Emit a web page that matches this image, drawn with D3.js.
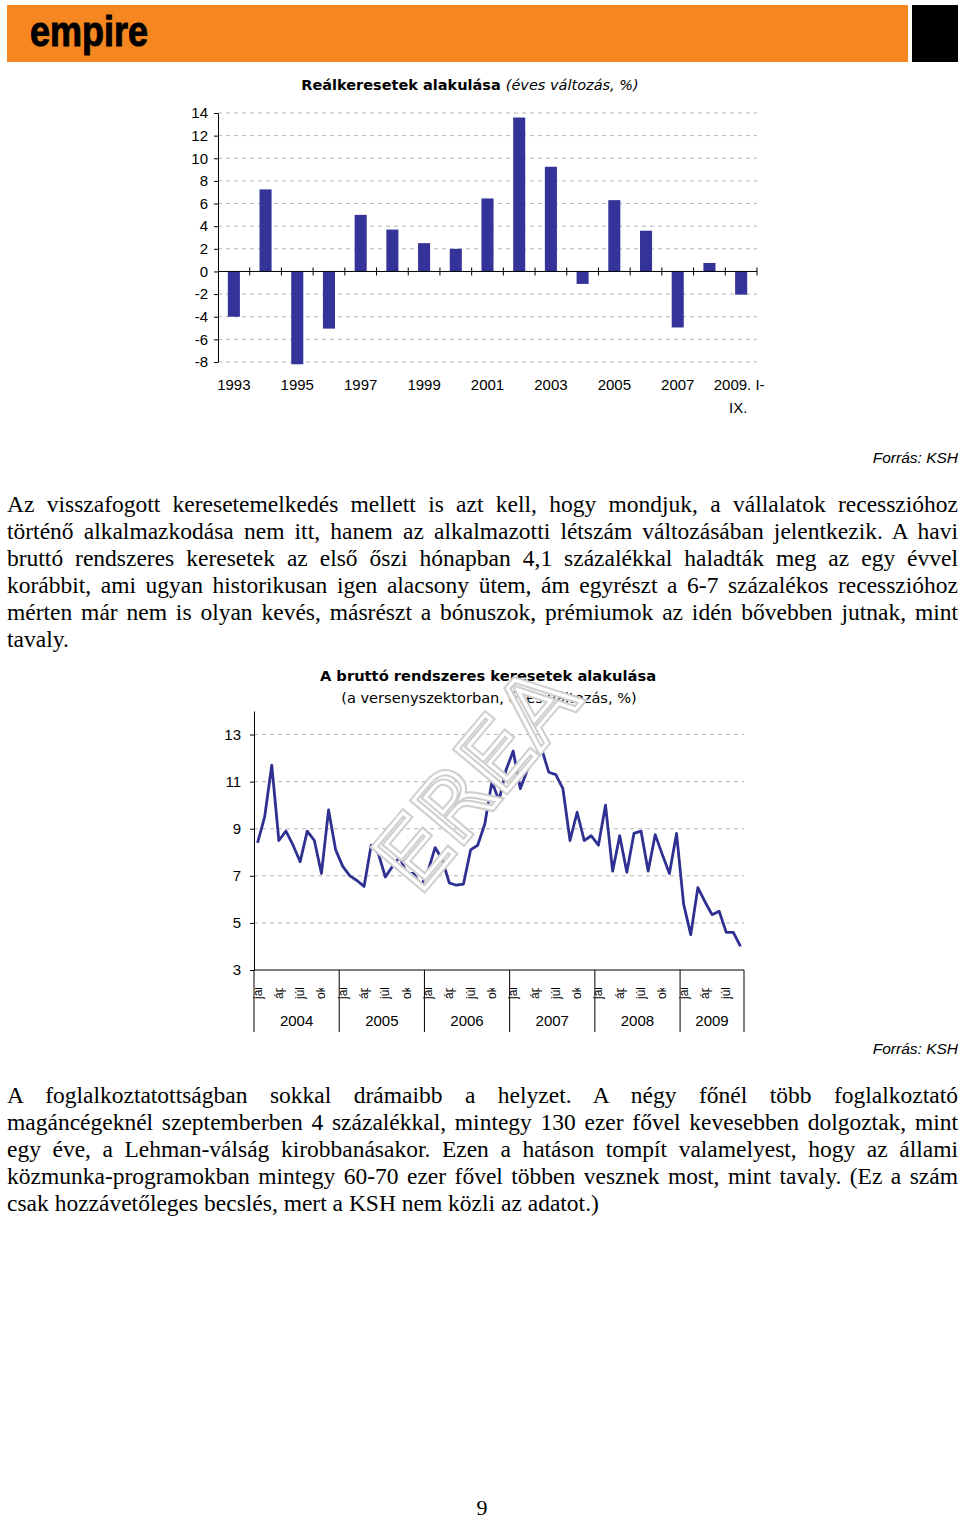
<!DOCTYPE html>
<html>
<head>
<meta charset="utf-8">
<script src="https://d3js.org/d3.v7.min.js"></script>
<style>
  body {margin: 0; background: #fff;}
  #page {position: relative; width: 960px; height: 1521px; overflow: hidden;}
  #page svg {position: absolute; left: 0; top: 0;}
  .txt {position: absolute; left: 7px; width: 951px; height: 27px;
        font: 23.5px "Liberation Serif", "Times New Roman", serif; line-height: 27px;
        text-align: justify; text-align-last: justify; color: #000;}
  .txt.last {text-align-last: left;}
</style>
</head>
<body>
<div id="page">
  <svg id="chart" width="960" height="1521"></svg>
</div>

<script>
// bar chart: real wages, yearly change %
var barYears = ["1993","1994","1995","1996","1997","1998","1999","2000","2001",
                "2002","2003","2004","2005","2006","2007","2008","2009"];
var barValues = [-4.0, 7.25, -8.2, -5.05, 5.0, 3.7, 2.5, 2.0, 6.45,
                 13.6, 9.25, -1.1, 6.3, 3.6, -4.95, 0.75, -2.05];
var barTicks = [-8, -6, -4, -2, 0, 2, 4, 6, 8, 10, 12, 14];
var barLabelYears = ["1993","1995","1997","1999","2001","2003","2005","2007"];

// line chart: gross regular wages, monthly, 2004 jan - 2009 sep
var lineYears = ["2004","2005","2006","2007","2008","2009"];
var monthLabels = ["jan", "ápr", "júl", "okt"];
var lineTicks = [3, 5, 7, 9, 11, 13];
var lineValues = [
  8.4, 9.5, 11.7, 8.5, 8.9, 8.3, 7.6, 8.9, 8.5, 7.1, 9.8, 8.1,      // 2004
  7.4, 7.0, 6.8, 6.55, 8.3, 7.95, 6.95, 7.4, 7.8, 7.1, 7.1, 6.55,   // 2005
  7.2, 8.2, 7.7, 6.7, 6.6, 6.65, 8.1, 8.3, 9.2, 11.0, 10.2, 11.5,   // 2006
  12.3, 10.7, 11.5, 12.1, 12.4, 11.4, 11.3, 10.7, 8.5, 9.7, 8.5, 8.7, // 2007
  8.3, 10.0, 7.2, 8.7, 7.15, 8.8, 8.9, 7.2, 8.75, 7.9, 7.1, 8.8,    // 2008
  5.8, 4.5, 6.5, 5.9, 5.35, 5.5, 4.6, 4.6, 4.0                      // 2009 I-IX
];

var para1 = [
  "Az visszafogott keresetemelkedés mellett is azt kell, hogy mondjuk, a vállalatok recesszióhoz",
  "történő alkalmazkodása nem itt, hanem az alkalmazotti létszám változásában jelentkezik. A havi",
  "bruttó rendszeres keresetek az első őszi hónapban 4,1 százalékkal haladták meg az egy évvel",
  "korábbit, ami ugyan historikusan igen alacsony ütem, ám egyrészt a 6-7 százalékos recesszióhoz",
  "mérten már nem is olyan kevés, másrészt a bónuszok, prémiumok az idén bővebben jutnak, mint",
  "tavaly."
];
var para2 = [
  "A foglalkoztatottságban sokkal drámaibb a helyzet. A négy főnél több foglalkoztató",
  "magáncégeknél szeptemberben 4 százalékkal, mintegy 130 ezer fővel kevesebben dolgoztak, mint",
  "egy éve, a Lehman-válság kirobbanásakor. Ezen a hatáson tompít valamelyest, hogy az állami",
  "közmunka-programokban mintegy 60-70 ezer fővel többen vesznek most, mint tavaly. (Ez a szám",
  "csak hozzávetőleges becslés, mert a KSH nem közli az adatot.)"
];

var barColor = "#333399",
    gridColor = "#b4b4b4",
    sans = "'Liberation Sans', Arial, sans-serif",
    tahoma = "'DejaVu Sans', Verdana, sans-serif",
    plain = function(d) { return String(d); };   // hyphen minus like the original

var svg = d3.select("#chart");

// ---- header ----
svg.append("rect").attr("x", 7).attr("y", 5).attr("width", 901).attr("height", 57).attr("fill", "#f6861f");
svg.append("rect").attr("x", 912).attr("y", 5).attr("width", 46).attr("height", 57).attr("fill", "#000");
svg.append("text")
    .attr("x", 30).attr("y", 46)
    .attr("textLength", 118).attr("lengthAdjust", "spacingAndGlyphs")
    .attr("font-family", sans).attr("font-weight", "bold").attr("font-size", 42)
    .attr("stroke", "#000").attr("stroke-width", 1)
    .text("empire");

// ---- bar chart ----
var bx = d3.scaleBand().domain(barYears).range([218, 757]).paddingInner(0.62).paddingOuter(0.31);
var by = d3.scaleLinear().domain([-8, 14]).range([362, 113]);

var title1 = svg.append("text").attr("x", 470).attr("y", 90).attr("text-anchor", "middle")
    .attr("font-family", tahoma).attr("font-size", 14.5);
title1.append("tspan").attr("font-weight", "bold").text("Reálkeresetek alakulása ");
title1.append("tspan").attr("font-style", "italic").text("(éves változás, %)");

var g1 = svg.append("g");

g1.selectAll(".grid")
    .data(barTicks.filter(function(d) { return d !== 0; }))
    .enter().append("line")
    .attr("x1", 218).attr("x2", 757)
    .attr("y1", function(d) { return by(d); })
    .attr("y2", function(d) { return by(d); })
    .attr("stroke", gridColor).attr("stroke-dasharray", "4,4");

g1.selectAll(".bar")
    .data(barValues)
    .enter().append("rect")
    .attr("x", function(d, i) { return bx(barYears[i]); })
    .attr("width", bx.bandwidth())
    .attr("y", function(d) { return by(Math.max(0, d)); })
    .attr("height", function(d) { return Math.abs(by(d) - by(0)); })
    .attr("fill", barColor);

var yAx1 = g1.append("g")
    .attr("transform", "translate(218,0)")
    .call(d3.axisLeft(by).tickValues(barTicks).tickFormat(plain)
          .tickSize(4).tickSizeOuter(0).tickPadding(6));
yAx1.selectAll("text").attr("font-family", sans).attr("font-size", 15).attr("fill", "#000");
yAx1.selectAll("line, path").attr("stroke", "#000");

// x axis through zero with ticks between categories
g1.append("line").attr("x1", 218).attr("x2", 757)
    .attr("y1", by(0)).attr("y2", by(0)).attr("stroke", "#000");
var bounds = barYears.map(function(d) { return bx(d) - bx.step() * bx.paddingInner() / 2; });
bounds.push(757);
g1.selectAll(".xtick").data(bounds.slice(1))
    .enter().append("line")
    .attr("x1", function(d) { return d; }).attr("x2", function(d) { return d; })
    .attr("y1", by(0) - 4).attr("y2", by(0) + 4).attr("stroke", "#000");

g1.selectAll(".xlab").data(barLabelYears)
    .enter().append("text")
    .attr("x", function(d) { return bx(d) + bx.bandwidth() / 2; })
    .attr("y", 390)
    .attr("text-anchor", "middle")
    .attr("font-family", sans).attr("font-size", 15)
    .text(function(d) { return d; });
var last = bx("2009") + bx.bandwidth() / 2;
g1.append("text").attr("x", last - 2).attr("y", 390).attr("text-anchor", "middle")
    .attr("font-family", sans).attr("font-size", 15).text("2009. I-");
g1.append("text").attr("x", last - 3).attr("y", 413).attr("text-anchor", "middle")
    .attr("font-family", sans).attr("font-size", 15).text("IX.");

// source notes
[463, 1054].forEach(function(y) {
  svg.append("text").attr("x", 958).attr("y", y).attr("text-anchor", "end")
      .attr("font-family", sans).attr("font-style", "italic").attr("font-size", 15.5)
      .text("Forrás: KSH");
});

// ---- line chart ----
var monthKeys = [];
lineYears.forEach(function(y) {
  for (var m = 1; m <= 12; m++) monthKeys.push(y + "-" + m);
});
monthKeys = monthKeys.slice(0, lineValues.length);

var lx = d3.scalePoint().domain(monthKeys).range([254, 744]).padding(0.5);
var ly = d3.scaleLinear().domain([3, 14]).range([970, 711]);
var half = lx.step() / 2;

var t2 = svg.append("g").attr("font-family", tahoma).attr("text-anchor", "middle");
t2.append("text").attr("x", 488).attr("y", 681).attr("font-weight", "bold").attr("font-size", 14.7)
    .text("A bruttó rendszeres keresetek alakulása");
t2.append("text").attr("x", 489).attr("y", 703).attr("font-size", 14.6)
    .text("(a versenyszektorban, éves változás, %)");

var g2 = svg.append("g");

g2.selectAll(".grid")
    .data(lineTicks.filter(function(d) { return d > 3; }))
    .enter().append("line")
    .attr("x1", 254).attr("x2", 744)
    .attr("y1", function(d) { return ly(d); })
    .attr("y2", function(d) { return ly(d); })
    .attr("stroke", gridColor).attr("stroke-dasharray", "4,4");

var yAx2 = g2.append("g")
    .attr("transform", "translate(254,0)")
    .call(d3.axisLeft(ly).tickValues(lineTicks).tickFormat(plain)
          .tickSize(4).tickSizeOuter(0).tickPadding(9));
yAx2.selectAll("text").attr("font-family", sans).attr("font-size", 15).attr("fill", "#000");
yAx2.selectAll("line, path").attr("stroke", "#000");

g2.append("line").attr("x1", 254).attr("x2", 744).attr("y1", ly(3)).attr("y2", ly(3)).attr("stroke", "#000");

// year separators and labels
var yearStart = lineYears.map(function(y) { return lx(y + "-1") - half; });
var yearEnd = yearStart.slice(1).concat([744]);
g2.selectAll(".sep").data(yearStart.concat([744]))
    .enter().append("line")
    .attr("x1", function(d) { return d; }).attr("x2", function(d) { return d; })
    .attr("y1", ly(3)).attr("y2", 1032).attr("stroke", "#000");
g2.selectAll(".ylab").data(lineYears)
    .enter().append("text")
    .attr("x", function(d, i) { return (yearStart[i] + yearEnd[i]) / 2; })
    .attr("y", 1026).attr("text-anchor", "middle")
    .attr("font-family", sans).attr("font-size", 15)
    .text(function(d) { return d; });

// rotated month labels, clipped like in the original
svg.append("defs").append("clipPath").attr("id", "mclip")
    .append("rect").attr("x", 250).attr("y", 988).attr("width", 500).attr("height", 11);
var mlab = [];
monthKeys.forEach(function(k) {
  var m = +k.split("-")[1];
  if ((m - 1) % 3 === 0) mlab.push({key: k, text: monthLabels[(m - 1) / 3]});
});
g2.append("g").attr("clip-path", "url(#mclip)")
    .selectAll("text").data(mlab)
    .enter().append("text")
    .attr("transform", function(d) { return "translate(" + (lx(d.key) + 4) + ",999) rotate(-90)"; })
    .attr("font-family", sans).attr("font-size", 12)
    .text(function(d) { return d.text; });

// watermark (under the line)
var wm = svg.append("g").attr("transform", "translate(476,778) rotate(-50)")
    .attr("font-family", tahoma).attr("font-size", 90).attr("text-anchor", "middle")
    .attr("fill", "none");
wm.append("text").attr("y", 32).attr("textLength", 255).attr("lengthAdjust", "spacingAndGlyphs")
    .attr("stroke", "#cfcfcf").attr("stroke-width", 7).text("EREA");
wm.append("text").attr("y", 32).attr("textLength", 255).attr("lengthAdjust", "spacingAndGlyphs")
    .attr("stroke", "#fff").attr("stroke-width", 3).text("EREA");

g2.append("path")
    .datum(lineValues)
    .attr("fill", "none")
    .attr("stroke", "#2e3192")
    .attr("stroke-width", 2.8)
    .attr("stroke-linejoin", "round")
    .attr("d", d3.line()
        .x(function(d, i) { return lx(monthKeys[i]); })
        .y(function(d) { return ly(d); }));

// page number
svg.append("text").attr("x", 482).attr("y", 1515).attr("text-anchor", "middle")
    .attr("font-family", "'Liberation Serif', serif").attr("font-size", 22).text("9");

// ---- body text ----
function addPara(lines, top) {
  d3.select("#page").selectAll(null)
      .data(lines)
      .enter().append("div")
      .attr("class", function(d, i) { return i === lines.length - 1 ? "txt last" : "txt"; })
      .style("top", function(d, i) { return (top + i * 27) + "px"; })
      .text(function(d) { return d; });
}
addPara(para1, 491);
addPara(para2, 1082);
</script>
</body>
</html>
